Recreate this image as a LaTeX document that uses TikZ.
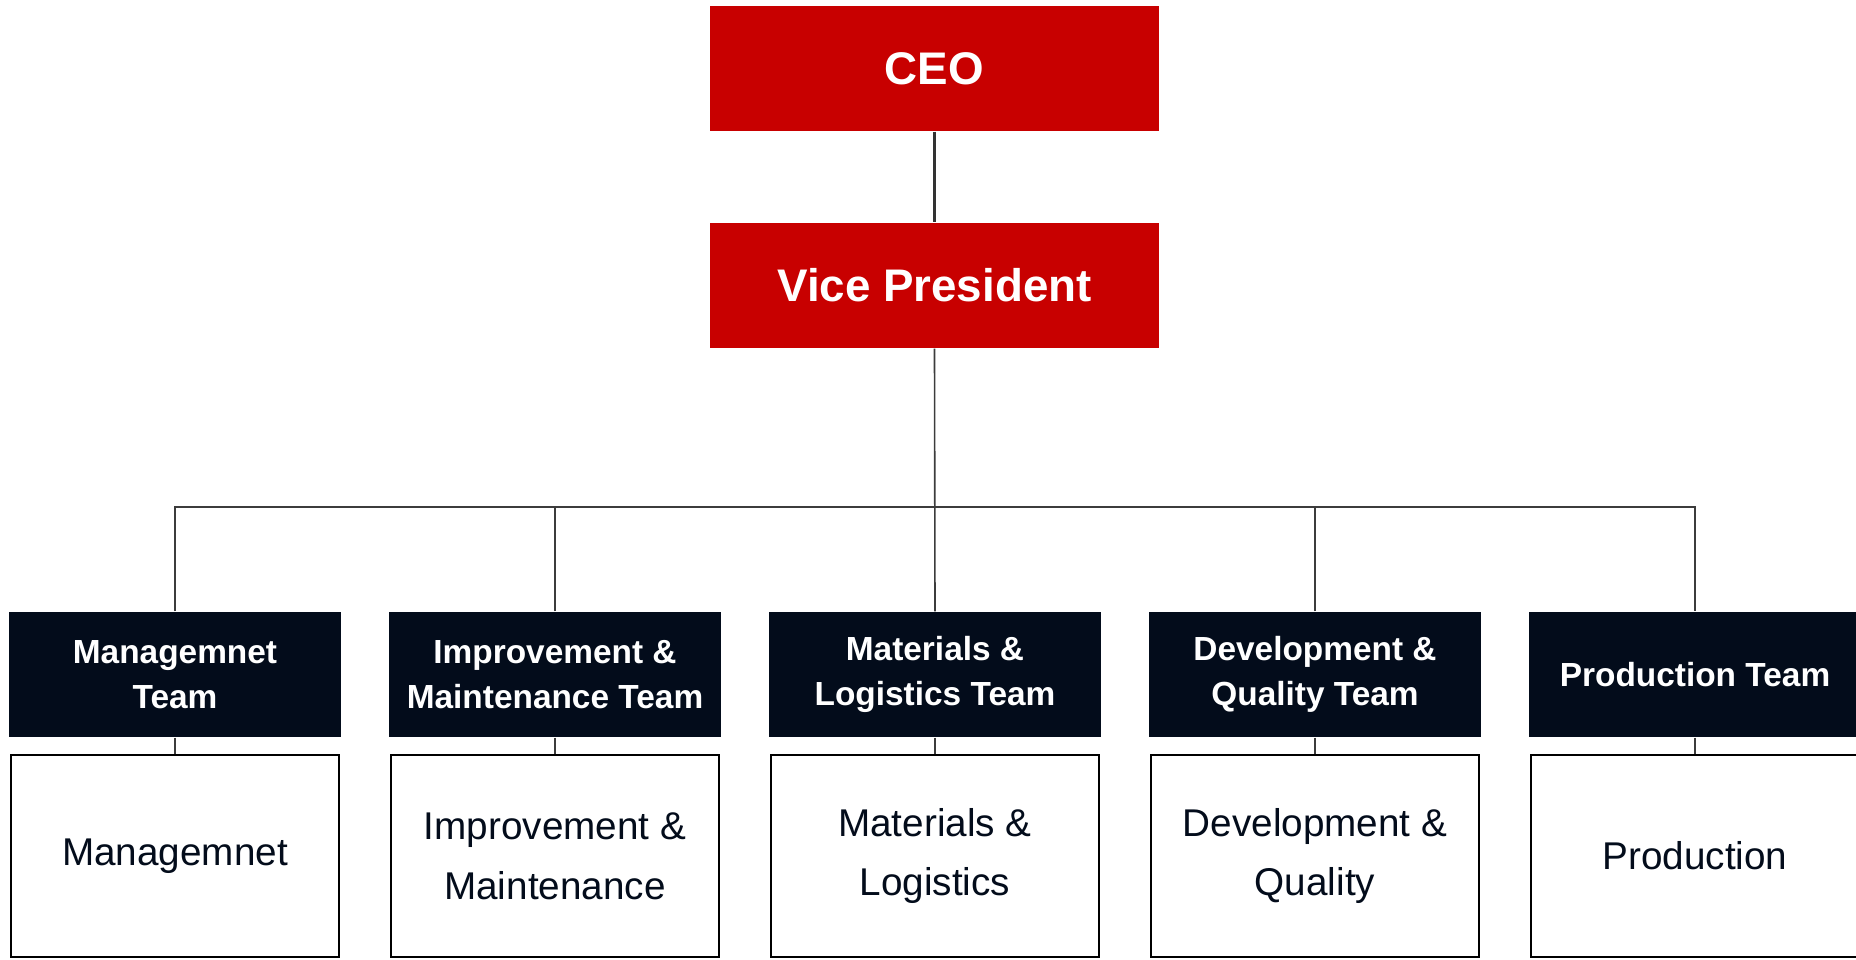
\documentclass[tikz,border=0pt]{standalone}
\usepackage{fontspec}
\setmainfont{Liberation Sans}
\usepackage{tikz}

\definecolor{ceored}{RGB}{200,0,0}
\definecolor{teamnavy}{RGB}{3,12,27}
\definecolor{linegray}{RGB}{60,60,60}

\tikzset{
  topbox/.style={fill=ceored, text=white, minimum width=4.49cm, minimum height=1.25cm, inner sep=0pt, font=\fontsize{13}{15}\selectfont\bfseries},
  teambox/.style={fill=teamnavy, text=white, minimum width=3.31cm, minimum height=1.25cm, inner sep=0pt, align=center, font=\fontsize{9.5}{12.8}\selectfont\bfseries},
  unitbox/.style={draw=black, line width=0.02cm, fill=white, text=teamnavy, minimum width=3.27cm, minimum height=2.02cm, inner sep=0pt, align=center, font=\fontsize{11}{17}\selectfont},
  link/.style={draw=linegray, line width=0.016cm},
}

\begin{document}
\begin{tikzpicture}[x=0.01cm, y=-0.01cm]
\useasboundingbox (0,0) rectangle (1856,960);

\node[topbox] (ceo) at (934.5, 68.5) {CEO}; % Top.0
\node[topbox] (vp) at (934.5, 285.5) {Vice President}; % Top.1

\node[teambox] (t1) at (175, 674.5) {Managemnet\\Team}; % Team.1
\node[teambox] (t2) at (555, 674.5) {Improvement \&\\Maintenance Team}; % Team.2
\node[teambox] (t3) at (935, 674.5) {Materials \&\\Logistics Team}; % Team.3
\node[teambox] (t4) at (1315, 674.5) {Development \&\\Quality Team}; % Team.4
\node[teambox] (t5) at (1695, 674.5) {Production Team}; % Team.5

\node[unitbox] (u1) at (175, 856) {Managemnet}; % Unit.1
\node[unitbox] (u2) at (555, 856) {Improvement \&\\Maintenance}; % Unit.2
\node[unitbox] (u3) at (935, 856) {Materials \&\\Logistics}; % Unit.3
\node[unitbox] (u4) at (1315, 856) {Development \&\\Quality}; % Unit.4
\node[unitbox] (u5) at (1695, 856) {Production}; % Unit.5

\coordinate (bus) at (935, 507); % bus line

\draw[link, line width=0.03cm, draw=black!80] (ceo) -- (vp);
\draw[link] (vp.south) -- (t3.north);
\draw[link] (t1.north) |- (bus) -| (t5.north);
\draw[link] (t2.north) -- (t2.north |- bus);
\draw[link] (t4.north) -- (t4.north |- bus);

\draw[link] (t1.south) -- (u1.north);
\draw[link] (t2.south) -- (u2.north);
\draw[link] (t3.south) -- (u3.north);
\draw[link] (t4.south) -- (u4.north);
\draw[link] (t5.south) -- (u5.north);
\end{tikzpicture}
\end{document}
